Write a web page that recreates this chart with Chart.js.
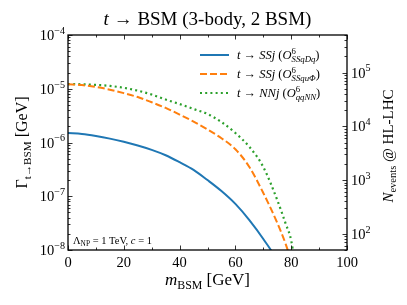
<!DOCTYPE html>
<html>
<head>
<meta charset="utf-8">
<script src="https://cdn.jsdelivr.net/npm/chart.js@4.4.1/dist/chart.umd.min.js"></script>
<style>
  html, body { margin: 0; padding: 0; background: #fff; }
  #wrap { width: 407px; height: 305px; }
</style>
</head>
<body>
<div id="wrap"><canvas id="chart" width="407" height="305"></canvas></div>
<script>
// masses in GeV
const masses = [0, 5, 10, 15, 20, 25, 30, 35, 40, 45, 50, 55, 60, 65, 70, 75, 78, 80, 82];
// decay widths in GeV
const gammaSSqDq = [1.50e-6, 1.44e-6, 1.32e-6, 1.18e-6, 1.03e-6, 8.8e-7, 7.3e-7, 5.8e-7, 4.3e-7, 3.1e-7,
                    2.0e-7, 1.25e-7, 7.2e-8, 3.6e-8, 1.6e-8, 6.0e-9, 2.0e-9, 8.0e-10, 3.0e-10];
const gammaSSquPhi = [1.21e-5, 1.17e-5, 1.08e-5, 9.6e-6, 8.3e-6, 7.0e-6, 5.6e-6, 4.4e-6, 3.3e-6, 2.45e-6,
                      1.75e-6, 1.2e-6, 7.5e-7, 3.5e-7, 1.15e-7, 3.2e-8, 1.3e-8, 6.0e-9, 2.0e-9];
const gammaqqNN = [1.22e-5, 1.21e-5, 1.18e-5, 1.13e-5, 1.04e-5, 9.2e-6, 7.8e-6, 6.3e-6, 5.2e-6, 4.2e-6,
                   3.4e-6, 2.4e-6, 1.5e-6, 8.3e-7, 3.5e-7, 8.5e-8, 3.1e-8, 1.5e-8, 3.0e-9];

const xTicks = [0, 20, 40, 60, 80, 100];
const yMajor = [-8, -7, -6, -5, -4];       // exponents of Gamma ticks
const nMajor = [2, 3, 4, 5];               // exponents of N_events ticks
const nPerGamma = 5e9;                      // N_events = Gamma * nPerGamma

const FONT = '"Liberation Serif", "DejaVu Serif", serif';
const C_BLUE = '#1f77b4', C_ORANGE = '#ff7f0e', C_GREEN = '#2ca02c';

function pts(vals) { return masses.map((m, i) => ({ x: m, y: vals[i] })); }

// draw a run of text parts: {t, i (italic), sub, sup}
function drawParts(ctx, parts, x, y, size, align) {
  function font(p, s) { return (p.i ? 'italic ' : '') + s + 'px ' + FONT; }
  const ss = size * 0.7;
  let w = 0;
  const widths = parts.map(p => {
    let pw = 0;
    if (p.t) { ctx.font = font(p, size); pw = ctx.measureText(p.t).width; }
    let sw = 0;
    if (p.sub) { ctx.font = font({ i: p.subi }, ss); sw = Math.max(sw, ctx.measureText(p.sub).width); }
    if (p.sup) { ctx.font = font({ i: false }, ss); sw = Math.max(sw, ctx.measureText(p.sup).width); }
    return pw + sw;
  });
  widths.forEach(v => w += v);
  let cx = align === 'center' ? x - w / 2 : (align === 'right' ? x - w : x);
  ctx.textBaseline = 'alphabetic';
  ctx.textAlign = 'left';
  parts.forEach((p, k) => {
    let px = cx;
    if (p.t) { ctx.font = font(p, size); ctx.fillText(p.t, px, y); px += ctx.measureText(p.t).width; }
    if (p.sup) { ctx.font = font({ i: false }, ss); ctx.fillText(p.sup, px, y - size * 0.42); }
    if (p.sub) { ctx.font = font({ i: p.subi }, ss); ctx.fillText(p.sub, px, y + size * 0.22); }
    cx += widths[k];
  });
  return w;
}

const decorPlugin = {
  id: 'decor',
  afterDraw(chart) {
    const ctx = chart.ctx;
    const a = chart.chartArea;
    const sx = chart.scales.x, sy = chart.scales.y, s2 = chart.scales.y2;
    ctx.save();
    ctx.fillStyle = '#000';
    ctx.strokeStyle = '#000';

    // frame
    ctx.lineWidth = 1.3;
    ctx.strokeRect(a.left, a.top, a.right - a.left, a.bottom - a.top);

    // ticks, pointing inwards
    ctx.lineWidth = 0.8;
    function hTick(x, len) {
      ctx.beginPath();
      ctx.moveTo(x, a.bottom); ctx.lineTo(x, a.bottom - len);
      ctx.moveTo(x, a.top); ctx.lineTo(x, a.top + len);
      ctx.stroke();
    }
    for (let v = 0; v <= 100; v += 10) {
      hTick(Math.round(sx.getPixelForValue(v)) + 0.5, v % 20 === 0 ? 4.5 : 2.5);
    }
    function vTick(scale, val, side, len) {
      const y = scale.getPixelForValue(val);
      if (y < a.top - 0.5 || y > a.bottom + 0.5) return;
      const yy = Math.round(y) + 0.5;
      ctx.beginPath();
      if (side === 'l') { ctx.moveTo(a.left, yy); ctx.lineTo(a.left + len, yy); }
      else { ctx.moveTo(a.right, yy); ctx.lineTo(a.right - len, yy); }
      ctx.stroke();
    }
    for (let e = -9; e <= -4; e++) {
      for (let k = 1; k <= 9; k++) vTick(sy, k * Math.pow(10, e), 'l', k === 1 ? 4.5 : 2.5);
    }
    for (let e = 1; e <= 5; e++) {
      for (let k = 1; k <= 9; k++) vTick(s2, k * Math.pow(10, e), 'r', k === 1 ? 4.5 : 2.5);
    }

    // tick labels of the log axes
    yMajor.forEach(e => {
      const y = sy.getPixelForValue(Math.pow(10, e));
      drawParts(ctx, [{ t: '10', sup: '\u2212' + (-e) }], a.left - 3, y + 5, 14.5, 'right');
    });
    nMajor.forEach(e => {
      const y = s2.getPixelForValue(Math.pow(10, e));
      drawParts(ctx, [{ t: '10', sup: String(e) }], a.right + 4, y + 5, 14.5, 'left');
    });

    // title
    drawParts(ctx, [{ t: 't', i: true }, { t: ' \u2192 BSM (3-body, 2 BSM)' }], (a.left + a.right) / 2, 25, 19, 'center');

    // x axis title
    drawParts(ctx, [{ t: 'm', i: true, sub: 'BSM' }, { t: ' [GeV]' }], (a.left + a.right) / 2, 285, 17, 'center');

    // left axis title
    ctx.save();
    ctx.translate(27, (a.top + a.bottom) / 2);
    ctx.rotate(-Math.PI / 2);
    drawParts(ctx, [{ t: '\u0393', sub: 't\u2192BSM', subi: false }, { t: ' [GeV]' }], 0, 0, 16, 'center');
    ctx.restore();

    // right axis title
    ctx.save();
    ctx.translate(393, 146);
    ctx.rotate(-Math.PI / 2);
    drawParts(ctx, [{ t: 'N', i: true, sub: 'events' }, { t: ' @ HL-LHC' }], 0, 0, 15, 'center');
    ctx.restore();

    // note
    drawParts(ctx, [{ t: '\u039b', sub: 'NP' }, { t: ' = 1 TeV, ' }, { t: 'c', i: true }, { t: ' = 1' }], a.left + 5, a.bottom - 6, 10.5, 'left');

    // legend
    const items = [
      { c: C_BLUE, dash: [], sub: 'SSqDq', fin: 'SSj' },
      { c: C_ORANGE, dash: [7, 3], sub: 'SSqu\u03a6', fin: 'SSj' },
      { c: C_GREEN, dash: [2, 3.2], sub: 'qqNN', fin: 'NNj' }
    ];
    items.forEach((it, k) => {
      const y = 55 + k * 19;
      ctx.save();
      ctx.strokeStyle = it.c;
      ctx.lineWidth = 2;
      ctx.setLineDash(it.dash);
      ctx.beginPath();
      ctx.moveTo(200, y); ctx.lineTo(229, y);
      ctx.stroke();
      ctx.restore();
      drawParts(ctx, [
        { t: 't', i: true }, { t: ' \u2192 ' }, { t: it.fin, i: true }, { t: ' (' },
        { t: 'O', i: true, sup: '6', sub: it.sub, subi: true }, { t: ')' }
      ], 237, y + 4, 12.5, 'left');
    });
    ctx.restore();
  }
};

new Chart(document.getElementById('chart').getContext('2d'), {
  type: 'line',
  data: {
    datasets: [
      { label: 'SSqDq', data: pts(gammaSSqDq), borderColor: C_BLUE, borderWidth: 2, yAxisID: 'y' },
      { label: 'SSquPhi', data: pts(gammaSSquPhi), borderColor: C_ORANGE, borderWidth: 2, borderDash: [7, 3], yAxisID: 'y' },
      { label: 'qqNN', data: pts(gammaqqNN), borderColor: C_GREEN, borderWidth: 2.2, borderDash: [2, 3.2], yAxisID: 'y' }
    ]
  },
  options: {
    responsive: false,
    animation: false,
    layout: { padding: { top: 35 } },
    elements: {
      point: { radius: 0 },
      line: { cubicInterpolationMode: 'monotone', borderCapStyle: 'butt', fill: false }
    },
    datasets: { line: { clip: 0 } },
    plugins: { legend: { display: false }, tooltip: { enabled: false }, title: { display: false } },
    scales: {
      x: {
        type: 'linear', min: 0, max: 100,
        afterBuildTicks: s => { s.ticks = xTicks.map(v => ({ value: v })); },
        ticks: { color: '#000', font: { family: FONT, size: 14.5 }, padding: 4, maxRotation: 0 },
        grid: { display: false, drawTicks: false },
        border: { display: false },
        afterFit: s => { s.height = 55; }
      },
      y: {
        type: 'logarithmic', position: 'left', min: 1e-8, max: 1e-4,
        ticks: { display: false },
        grid: { display: false, drawTicks: false },
        border: { display: false },
        afterFit: s => { s.width = 68; }
      },
      y2: {
        type: 'logarithmic', position: 'right', min: 1e-8 * nPerGamma, max: 1e-4 * nPerGamma,
        ticks: { display: false },
        grid: { display: false, drawTicks: false },
        border: { display: false },
        afterFit: s => { s.width = 60; }
      }
    }
  },
  plugins: [decorPlugin]
});
</script>
</body>
</html>
